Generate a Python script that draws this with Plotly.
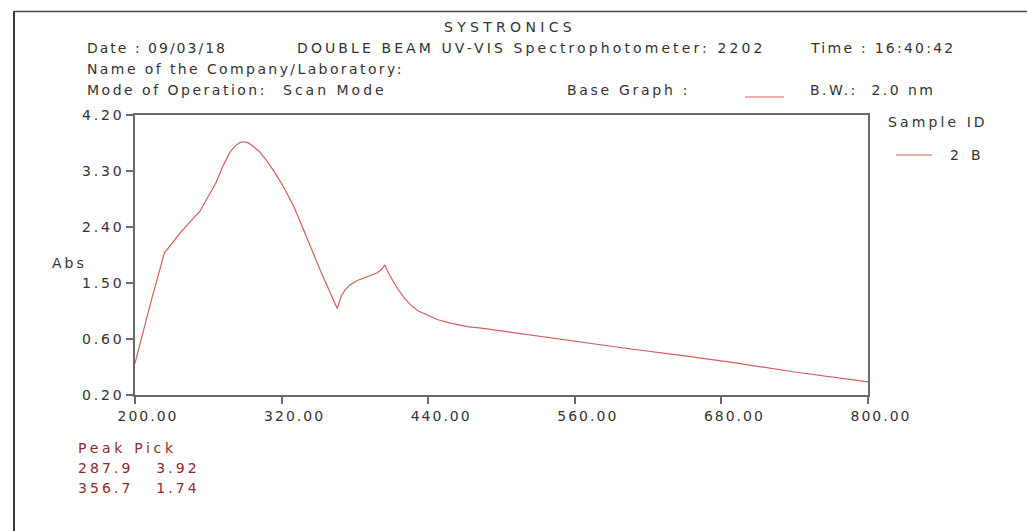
import plotly.graph_objects as go

# ---------------- data ----------------
wavelength = [200, 212, 224, 238, 253, 266, 272, 278, 282, 286, 289, 292, 296,
              302, 308, 314, 322, 330, 340, 352, 365.5, 367, 369, 372, 376,
              382, 390, 398, 402, 404.5, 408, 414, 420, 426, 432, 439, 448,
              458, 472, 485, 505, 526, 545, 564, 600, 650, 690, 740, 800]
absorbance = [0.21, 1.12, 1.98, 2.33, 2.65, 3.10, 3.38, 3.61, 3.70, 3.76, 3.77,
              3.76, 3.71, 3.61, 3.46, 3.29, 3.03, 2.73, 2.26, 1.69, 1.09, 1.20,
              1.30, 1.39, 1.47, 1.54, 1.60, 1.66, 1.72, 1.79, 1.64, 1.44, 1.27,
              1.14, 1.05, 0.985, 0.91, 0.855, 0.80, 0.77, 0.715, 0.66, 0.61,
              0.555, 0.455, 0.33, 0.22, 0.07, -0.09]

x_ticks = [200, 320, 440, 560, 680, 800]
x_ticktext = ["200.00", "320.00", "440.00", "560.00", "680.00", "800.00"]
y_ticks = [-0.30, 0.60, 1.50, 2.40, 3.30, 4.20]
y_ticktext = ["0.20", "0.60", "1.50", "2.40", "3.30", "4.20"]

peak_wl = [287.9, 356.7]
peak_abs = [3.92, 1.74]

sample_name = "2 B"

# ---------------- styling ----------------
W, H = 1027, 531
ML, MR, MT, MB = 135, 159, 115, 136
PW, PH = W - ML - MR, H - MT - MB
FONT = "DejaVu Sans, Verdana, sans-serif"
FS = 14
TXT = "#333333"
RED = "#D85C5C"
MAROON = "#8E2A2A"
AX = "#6a6a6a"


def px(xp):
    return (xp - ML) / PW


def py(yp):
    return (H - MB - yp) / PH


def sp(t, ls):
    return f'<span style="letter-spacing:{ls}px">{t}</span>'


fig = go.Figure()
fig.add_trace(go.Scatter(x=wavelength, y=absorbance, mode="lines", name=sample_name,
                         line=dict(color=RED, width=1.2), showlegend=False,
                         hoverinfo="x+y"))

annots = []


def ann(text, xp, yp, ls, color=TXT, size=FS):
    annots.append(dict(text=sp(text, ls), x=px(xp), y=py(yp), xref="paper", yref="paper",
                       xanchor="left", yanchor="middle", showarrow=False,
                       font=dict(family=FONT, size=size, color=color), borderpad=0))


ann("SYSTRONICS", 443, 27, 4.3)
ann("Date : 09/03/18", 86, 48, 2.0)
ann("DOUBLE BEAM UV-VIS Spectrophotometer: 2202", 296, 48, 3.1)
ann("Time : 16:40:42", 809, 48, 2.25)
ann("Name of the Company/Laboratory:", 86, 69, 2.4)
ann("Mode of Operation:", 86, 90, 2.5)
ann("Scan Mode", 282, 90, 3.0)
ann("Base Graph :", 566, 90, 2.7)
ann("B.W.:  2.0 nm", 809, 90, 2.45)
ann("Sample ID", 887, 122, 3.1)
ann(sample_name, 949, 155, 3.8)
ann("Abs", 51, 263, 3.0)
ann("Peak Pick", 77, 448, 3.7, color=MAROON)
for i, (w_, a_) in enumerate(zip(peak_wl, peak_abs)):
    ann(f"{w_:.1f}   {a_:.2f}", 77, 468 + 20 * i, 3.1, color=MAROON)

shapes = [
    # outer page frame
    dict(type="line", xref="paper", yref="paper", x0=px(14), x1=px(14), y0=py(11), y1=py(H),
         line=dict(color="#3a3a3a", width=2)),
    dict(type="line", xref="paper", yref="paper", x0=px(14), x1=px(W), y0=py(11.5), y1=py(11.5),
         line=dict(color="#4a4a4a", width=1.5)),
    # base graph line sample
    dict(type="line", xref="paper", yref="paper", x0=px(745), x1=px(784), y0=py(97), y1=py(97),
         line=dict(color=RED, width=1.2)),
    # legend line sample
    dict(type="line", xref="paper", yref="paper", x0=px(896), x1=px(932), y0=py(155), y1=py(155),
         line=dict(color=RED, width=1.2)),
]

axis_common = dict(showgrid=False, zeroline=False, showline=True, mirror=True,
                   linecolor=AX, linewidth=1.5, ticks="outside", ticklen=7,
                   tickcolor=AX, tickwidth=1.5,
                   tickfont=dict(family=FONT, size=FS, color=TXT))

fig.update_xaxes(range=[200, 800], tickvals=x_ticks,
                 ticktext=[sp(t, 2.0) for t in x_ticktext], ticklabelshift=13,
                 **axis_common)
fig.update_yaxes(range=[-0.30, 4.20], tickvals=y_ticks,
                 ticktext=[sp(t, 2.8) for t in y_ticktext], ticklabelstandoff=-1,
                 **axis_common)

fig.update_layout(width=W, height=H, margin=dict(l=ML, r=MR, t=MT, b=MB),
                  paper_bgcolor="white", plot_bgcolor="white",
                  annotations=annots, shapes=shapes, showlegend=False,
                  font=dict(family=FONT, size=FS, color=TXT))

fig.write_html("out.html", config={"displayModeBar": False})
